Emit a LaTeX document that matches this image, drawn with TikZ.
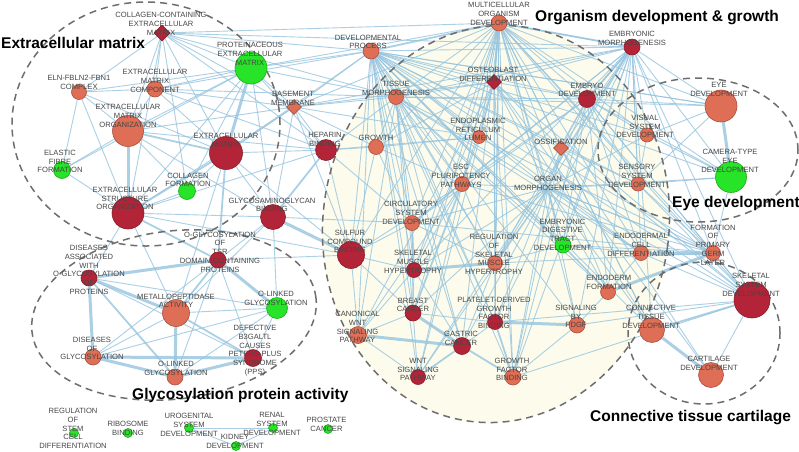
\documentclass[tikz,border=0pt]{standalone}
\usepackage{fontspec}
\setmainfont{Liberation Sans}
\usetikzlibrary{shapes.geometric}
\pgfdeclarelayer{back}\pgfdeclarelayer{edges}\pgfdeclarelayer{mid}
\pgfsetlayers{back,edges,mid,main}
\definecolor{cdr}{RGB}{180,36,56}
\definecolor{cdrb}{RGB}{135,28,42}
\definecolor{csa}{RGB}{222,110,85}
\definecolor{csab}{RGB}{172,78,60}
\definecolor{cgn}{RGB}{40,228,40}
\definecolor{cgnb}{RGB}{25,170,25}
\definecolor{clb}{RGB}{70,70,70}
\definecolor{ced}{RGB}{150,196,222}
\definecolor{cds}{RGB}{110,110,110}
\definecolor{cyl}{RGB}{253,252,236}
\begin{document}
\begin{tikzpicture}[x=1pt,y=-1pt,
  nd/.style={circle,inner sep=0pt,line width=0.6pt},
  dr/.style={nd,fill=cdr,draw=cdrb},
  sa/.style={nd,fill=csa,draw=csab},
  gn/.style={nd,fill=cgn,draw=cgnb},
  dmd/.style={diamond,inner sep=0pt,line width=0.6pt},
  lbl/.style={font=\fontsize{7.6}{8.7}\selectfont,text=clb,align=center,inner sep=0pt},
  ed/.style={draw=ced,line width=0.9pt,opacity=0.8},
  edm/.style={ed,line width=1.8pt},
  edk/.style={ed,line width=3pt},
  grp/.style={font=\bfseries\fontsize{15.5}{16}\selectfont,inner sep=0pt,anchor=base west},
  dsh/.style={draw=cds,line width=1.5pt,dash pattern=on 7pt off 5pt}
]
\useasboundingbox (0,0) rectangle (799,451);
\begin{pgfonlayer}{back}
\fill[white] (0,0) rectangle (799,451);
\begin{scope}[shift={(496,224)},rotate=-8]
\fill[cyl] (0,0) ellipse [x radius=173pt, y radius=199pt];
\end{scope}
\end{pgfonlayer}
% ---------- nodes
\node[dmd,fill=cdr,draw=cdrb,minimum size=16pt] (cc) at (162,33) {};
\node[gn,minimum size=32pt] (pem) at (251,68) {};
\node[sa,minimum size=15pt] (eln) at (79,92) {};
\node[sa,minimum size=16pt] (ecmc) at (155,89) {};
\node[sa,minimum size=31pt] (ecmo) at (128,131) {};
\node[dr,minimum size=33pt] (ecm) at (226,153) {};
\node[dmd,fill=csa,draw=csab,minimum size=15pt] (bm) at (294,107) {};
\node[dr,minimum size=21pt] (hep) at (326,150) {};
\node[sa,minimum size=16pt] (dp) at (371,51) {};
\node[sa,minimum size=15pt] (tm) at (396,97) {};
\node[sa,minimum size=15pt] (gr) at (376,147) {};
\node[sa,minimum size=16pt] (mod) at (499,23) {};
\node[dmd,fill=cdr,draw=cdrb,minimum size=15pt] (ob) at (494,82) {};
\node[dr,minimum size=16pt] (emo) at (632,47) {};
\node[dr,minimum size=17pt] (edv) at (587,99) {};
\node[sa,minimum size=13pt] (erl) at (479,137) {};
\node[dmd,fill=csa,draw=csab,minimum size=15pt] (oss) at (561,148) {};
\node[sa,minimum size=32pt] (eye) at (721,106) {};
\node[sa,minimum size=14pt] (vis) at (647,135) {};
\node[gn,minimum size=31pt] (cam) at (731,177) {};
\node[sa,minimum size=14pt] (sen) at (638,184) {};
\node[gn,minimum size=17pt] (eff) at (62,170) {};
\node[gn,minimum size=17pt] (cf) at (187,191) {};
\node[dr,minimum size=32pt] (eso) at (128,213) {};
\node[dr,minimum size=25pt] (gag) at (273,217) {};
\node[dr,minimum size=27pt] (scb) at (351,255) {};
\node[sa,minimum size=15pt] (esc) at (462,184) {};
\node[inner sep=0pt,minimum size=2pt] (om) at (548,188) {};
\node[sa,minimum size=15pt] (csd) at (412,223) {};
\node[gn,minimum size=16pt] (edt) at (563,245) {};
\node[sa,minimum size=15pt] (rsm) at (495,263) {};
\node[dr,minimum size=15pt] (smh) at (414,270) {};
\node[sa,minimum size=15pt] (fpg) at (713,253) {};
\node[sa,minimum size=15pt] (ecd) at (641,253) {};
\node[sa,minimum size=15pt] (ef) at (608,292) {};
\node[dr,minimum size=36pt] (ssd) at (752,300) {};
\node[sa,minimum size=25pt] (ctd) at (652,330) {};
\node[sa,minimum size=25pt] (cd) at (711,375) {};
\node[sa,minimum size=17pt] (wntc) at (358,335) {};
\node[dr,minimum size=16pt] (bc) at (413,313) {};
\node[dr,minimum size=15pt] (pdgfb) at (495,322) {};
\node[sa,minimum size=16pt] (spdgf) at (577,325) {};
\node[dr,minimum size=17pt] (gc) at (462,346) {};
\node[dr,minimum size=15pt] (wnt) at (418,377) {};
\node[sa,minimum size=16pt] (gfb) at (513,377) {};
\node[dr,minimum size=16pt] (dao) at (89,278) {};
\node[dr,minimum size=16pt] (tsr) at (218,260) {};
\node[sa,minimum size=27pt] (mp) at (176,313) {};
\node[gn,minimum size=21pt] (olg) at (277,308) {};
\node[sa,minimum size=16pt] (dg) at (93,357) {};
\node[sa,minimum size=16pt] (olo) at (175,377) {};
\node[dr,minimum size=17pt] (def) at (253,358) {};
\node[gn,minimum size=9pt] (rsc) at (74,433) {};
\node[gn,minimum size=9pt] (rb) at (128,433) {};
\node[gn,minimum size=9pt] (ugs) at (189,428) {};
\node[gn,minimum size=9pt] (kd) at (236,446) {};
\node[gn,minimum size=9pt] (rsd) at (273,428) {};
\node[gn,minimum size=9pt] (pc) at (328,429) {};
% ---------- labels
\node[lbl] (tcc) at (161,24) {COLLAGEN-CONTAINING\\EXTRACELLULAR\\MATRIX};
\node[lbl] (tpem) at (250,54) {PROTEINACEOUS\\EXTRACELLULAR\\MATRIX};
\node[lbl] (teln) at (79,82.5) {ELN-FBLN2-FBN1\\COMPLEX};
\node[lbl] (tecmc) at (155,81) {EXTRACELLULAR\\MATRIX\\COMPONENT};
\node[lbl] (tecmo) at (128,116) {EXTRACELLULAR\\MATRIX\\ORGANIZATION};
\node[lbl] (tecm) at (226,140) {EXTRACELLULAR\\MATRIX};
\node[lbl] (tbm) at (293,98) {BASEMENT\\MEMBRANE};
\node[lbl] (thep) at (325,139.5) {HEPARIN\\BINDING};
\node[lbl] (tdp) at (368,42) {DEVELOPMENTAL\\PROCESS};
\node[lbl] (ttm) at (396,88.5) {TISSUE\\MORPHOGENESIS};
\node[lbl] (tgr) at (376,138) {GROWTH};
\node[lbl] (tmod) at (499,14) {MULTICELLULAR\\ORGANISM\\DEVELOPMENT};
\node[lbl] (tob) at (493,74.5) {OSTEOBLAST\\DIFFERENTIATION};
\node[lbl] (temo) at (632,38.5) {EMBRYONIC\\MORPHOGENESIS};
\node[lbl] (tedv) at (587,90) {EMBRYO\\DEVELOPMENT};
\node[lbl] (terl) at (478,129.5) {ENDOPLASMIC\\RETICULUM\\LUMEN};
\node[lbl] (toss) at (561,142) {OSSIFICATION};
\node[lbl] (teye) at (719,89.5) {EYE\\DEVELOPMENT};
\node[lbl] (tvis) at (645,126.5) {VISUAL\\SYSTEM\\DEVELOPMENT};
\node[lbl] (tcam) at (730,161) {CAMERA-TYPE\\EYE\\DEVELOPMENT};
\node[lbl] (tsen) at (637,176) {SENSORY\\SYSTEM\\DEVELOPMENT};
\node[lbl] (teff) at (60,161.5) {ELASTIC\\FIBRE\\FORMATION};
\node[lbl] (tcf) at (188,180) {COLLAGEN\\FORMATION};
\node[lbl] (teso) at (125,198.5) {EXTRACELLULAR\\STRUCTURE\\ORGANIZATION};
\node[lbl] (tgag) at (272,205) {GLYCOSAMINOGLYCAN\\BINDING};
\node[lbl] (tscb) at (350,241.5) {SULFUR\\COMPOUND\\BINDING};
\node[lbl] (tesc) at (461,176) {ESC\\PLURIPOTENCY\\PATHWAYS};
\node[lbl] (tom) at (548,183.5) {ORGAN\\MORPHOGENESIS};
\node[lbl] (tcsd) at (411,213) {CIRCULATORY\\SYSTEM\\DEVELOPMENT};
\node[lbl] (tedt) at (562.5,234.5) {EMBRYONIC\\DIGESTIVE\\TRACT\\DEVELOPMENT};
\node[lbl] (trsm) at (494,254.5) {REGULATION\\OF\\SKELETAL\\MUSCLE\\HYPERTROPHY};
\node[lbl] (tsmh) at (413,262) {SKELETAL\\MUSCLE\\HYPERTROPHY};
\node[lbl] (tfpg) at (713,245) {FORMATION\\OF\\PRIMARY\\GERM\\LAYER};
\node[lbl] (tecd) at (641,245) {ENDODERMAL\\CELL\\DIFFERENTIATION};
\node[lbl] (tef) at (609,282.5) {ENDODERM\\FORMATION};
\node[lbl] (tssd) at (751,285) {SKELETAL\\SYSTEM\\DEVELOPMENT};
\node[lbl] (tctd) at (651,317) {CONNECTIVE\\TISSUE\\DEVELOPMENT};
\node[lbl] (tcd) at (709,363.5) {CARTILAGE\\DEVELOPMENT};
\node[lbl] (twntc) at (357.5,327) {CANONICAL\\WNT\\SIGNALING\\PATHWAY};
\node[lbl] (tbc) at (413,305) {BREAST\\CANCER};
\node[lbl] (tpdgfb) at (494,313) {PLATELET-DERIVED\\GROWTH\\FACTOR\\BINDING};
\node[lbl] (tspdgf) at (576,316.5) {SIGNALING\\BY\\PDGF};
\node[lbl] (tgc) at (461,338.5) {GASTRIC\\CANCER};
\node[lbl] (twnt) at (418,369.5) {WNT\\SIGNALING\\PATHWAY};
\node[lbl] (tgfb) at (512,369.5) {GROWTH\\FACTOR\\BINDING};
\node[lbl] (tdao) at (89,270) {DISEASES\\ASSOCIATED\\WITH\\O-GLYCOSYLATION\\OF\\PROTEINS};
\node[lbl] (ttsr) at (220,252) {O-GLYCOSYLATION\\OF\\TSR\\DOMAIN-CONTAINING\\PROTEINS};
\node[lbl] (tmp) at (176,301) {METALLOPEPTIDASE\\ACTIVITY};
\node[lbl] (tolg) at (276,298.5) {O-LINKED\\GLYCOSYLATION};
\node[lbl] (tdg) at (92,348.5) {DISEASES\\OF\\GLYCOSYLATION};
\node[lbl] (tolo) at (176,368.5) {O-LINKED\\GLYCOSYLATION};
\node[lbl] (tdef) at (255,350.5) {DEFECTIVE\\B3GALTL\\CAUSES\\PETERS-PLUS\\SYNDROME\\(PPS)};
\node[lbl] (trsc) at (73,428.5) {REGULATION\\OF\\STEM\\CELL\\DIFFERENTIATION};
\node[lbl] (trb) at (128,428.5) {RIBOSOME\\BINDING};
\node[lbl] (tugs) at (189,425) {UROGENITAL\\SYSTEM\\DEVELOPMENT};
\node[lbl] (tkd) at (235,441.5) {KIDNEY\\DEVELOPMENT};
\node[lbl] (trsd) at (272,424) {RENAL\\SYSTEM\\DEVELOPMENT};
\node[lbl] (tpc) at (326.5,424.5) {PROSTATE\\CANCER};
% ---------- group titles
\node[grp] (gecm) at (1,48) {Extracellular matrix};
\node[grp] (gorg) at (535,21) {Organism development \& growth};
\node[grp] (geye) at (672,207) {Eye development};
\node[grp] (ggly) at (132,399) {Glycosylation protein activity};
\node[grp] (gcon) at (590,421) {Connective tissue cartilage};
% ---------- dashed groups
\begin{pgfonlayer}{mid}
\draw[dsh] (146,124) ellipse [x radius=134pt, y radius=122pt];
\begin{scope}[shift={(174,315)},rotate=7]
\draw[dsh] (0,0) ellipse [x radius=143pt, y radius=84pt];
\end{scope}
\begin{scope}[shift={(496,224)},rotate=-8]
\draw[dsh] (0,0) ellipse [x radius=173pt, y radius=199pt];
\end{scope}
\draw[dsh] (698,150) ellipse [x radius=100pt, y radius=72pt];
\draw[dsh] (704,333) ellipse [x radius=76pt, y radius=71pt];
\end{pgfonlayer}
% ---------- edges
\begin{pgfonlayer}{edges}
\foreach \a/\b in {cc/ecmc,cc/ecmo,cc/ecm,cc/eln,cc/pem,cc/bm,cc/eso,cc/dp,cc/mod,cc/tm,cc/hep,cc/emo,cc/cf,
 pem/ecmc,pem/ecmo,pem/eln,pem/bm,pem/eso,pem/cf,pem/hep,pem/gag,pem/dp,pem/mod,pem/tm,pem/eff,
 eln/ecmo,eln/eff,eln/eso,eln/ecmc,eln/ecm,
 ecmc/ecmo,ecmc/ecm,ecmc/bm,ecmc/dp,ecmc/tm,ecmc/hep,
 ecmo/eff,ecmo/cf,ecmo/bm,ecmo/hep,ecmo/gag,
 ecm/bm,ecm/hep,ecm/gag,ecm/cf,ecm/scb,ecm/mp,ecm/dp,
 eff/eso,cf/eso,
 eso/hep,eso/gag,eso/bm,eso/dao,eso/mp,eso/scb,
 bm/hep,bm/gag,bm/tm,bm/dp,bm/mod,bm/gr,bm/scb,bm/erl,bm/ob,bm/emo,
 hep/scb,hep/tm,hep/gr,hep/csd,hep/erl,
 gag/tsr,gag/mp,gag/csd,gag/olg,
 scb/csd,scb/smh,scb/esc,scb/gr,scb/bc,scb/tsr,scb/wntc,
 dao/olg,tsr/dg,tsr/olo,tsr/def,mp/olg,mp/dg,olg/dg,olg/olo,olg/def,dao/def,
 ugs/rsd,ugs/kd,kd/rsd}
 \draw[ed] (\a) -- (\b);
\foreach \b in {tm,gr,ob,emo,edv,erl,oss,esc,om,csd,edt,rsm,smh,fpg,ecd,ef,bc,pdgfb,spdgf,gc,wnt,gfb,scb,vis,sen,eye,cam,ssd,ctd}
 \draw[ed] (mod) -- (\b);
\foreach \b in {tm,gr,ob,emo,edv,erl,oss,esc,om,csd,edt,rsm,smh,fpg,ecd,ef,bc,pdgfb,spdgf,gc,wnt,gfb,scb,vis,sen,eye,ssd,ctd,wntc}
 \draw[ed] (dp) -- (\b);
\foreach \b in {tm,ob,edv,oss,esc,om,csd,edt,rsm,smh,fpg,ecd,ef,pdgfb,spdgf,gfb,vis,sen,eye,cam,ssd,ctd,wnt}
 \draw[ed] (emo) -- (\b);
\foreach \b in {ob,edv,gr,esc,om,csd,edt,smh,rsm,ecd,ef,fpg,bc,gc,wntc,pdgfb}
 \draw[ed] (tm) -- (\b);
\foreach \b in {ob,edv,oss,esc,csd,edt,rsm,smh,fpg,ecd,ef,bc,pdgfb,spdgf,gc,wnt,gfb,sen,vis,ssd,ctd,cam}
 \draw[ed] (om) -- (\b);
\foreach \b in {ob,oss,esc,csd,edt,fpg,ecd,ef,vis,sen,eye,cam,ssd,rsm,gfb}
 \draw[ed] (edv) -- (\b);
\foreach \b in {oss,erl,esc,gr,ssd,ctd,cd,rsm,smh,wnt,wntc,gfb,pdgfb}
 \draw[ed] (ob) -- (\b);
\foreach \b in {oss,cd,fpg,ecd,spdgf,sen,gfb,pdgfb}
 \draw[ed] (ssd) -- (\b);
\foreach \a/\b in {esc/csd,esc/smh,esc/rsm,esc/wntc,csd/rsm,csd/bc,smh/bc,smh/wntc,smh/gc,
 rsm/pdgfb,rsm/gc,rsm/edt,bc/pdgfb,bc/wnt,bc/wntc,gc/pdgfb,spdgf/gfb,spdgf/ef,wntc/wnt,
 ecd/ef,edt/ecd,edt/ef,fpg/edt,fpg/om,fpg/esc,fpg/csd,fpg/rsm,fpg/sen,fpg/cam,
 erl/gr,erl/esc,gr/esc,gr/csd,oss/ctd,oss/cd,oss/gfb,oss/sen,vis/sen,eye/vis,eye/sen,
 cam/vis,cam/sen,eye/tm,eye/dp,cam/dp}
 \draw[ed] (\a) -- (\b);
\foreach \a/\b in {ecm/eso,ecmo/ecm,hep/gag,eso/tsr,ecm/tsr,dp/mod,mod/emo,emo/edv,ssd/ctd,
 esc/bc,csd/smh,gc/wnt,gfb/pdgfb,gc/gfb,mod/ob,tsr/mp,dao/olo,mp/def}
 \draw[edm] (\a) -- (\b);
\foreach \a/\b in {ecmo/eso,pem/ecm,gag/scb,smh/rsm,bc/gc,wntc/gc,pdgfb/spdgf,ctd/cd,eye/cam,
 fpg/ecd,fpg/ef,dao/tsr,dao/mp,dao/dg,mp/olo,dg/olo,dg/def,olo/def,tsr/olg}
 \draw[edk] (\a) -- (\b);
\end{pgfonlayer}
\end{tikzpicture}
\end{document}
